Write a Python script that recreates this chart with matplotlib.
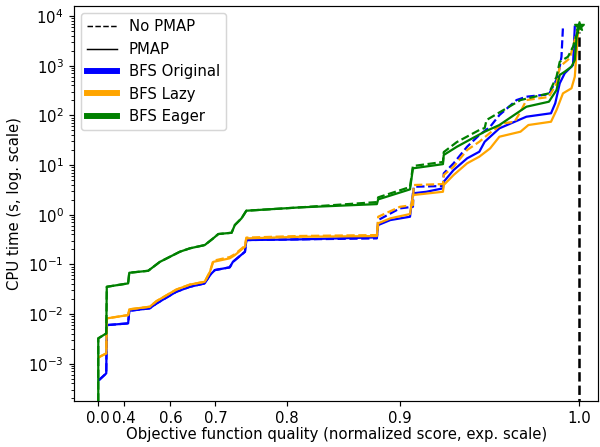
import matplotlib
matplotlib.use("Agg")
import matplotlib.pyplot as plt
from matplotlib.lines import Line2D
import numpy as np

# Calidad normalizada (0-1) frente a tiempo de CPU (s)
bfs_original_pmap_q = [0.03, 0.211, 0.22, 0.427, 0.434, 0.532, 0.557, 0.616, 0.649, 0.680,
                       0.690, 0.699, 0.724, 0.729, 0.747, 0.749, 0.814, 0.883, 0.884, 0.893,
                       0.907, 0.909, 0.918, 0.9285, 0.929, 0.935, 0.943, 0.950, 0.953, 0.961,
                       0.975, 0.987, 0.989, 0.9911, 0.9934, 0.9972, 0.998]
bfs_original_pmap_t = [4.67e-4, 6.37e-4, 5.97e-3, 6.47e-3, 1.16e-2, 1.30e-2, 1.63e-2, 2.80e-2, 3.53e-2, 4.13e-2,
                       6.08e-2, 7.66e-2, 8.69e-2, 0.112, 0.179, 0.308, 0.318, 0.349, 0.618, 0.778,
                       0.908, 2.69, 2.89, 3.39, 4.60, 7.91, 13.6, 18.5, 29.4, 54.7,
                       93.8, 110, 175, 441, 701, 1030, 6090]

bfs_original_nopmap_q = [0.03, 0.211, 0.22, 0.427, 0.434, 0.532, 0.557, 0.616, 0.649, 0.680,
                         0.690, 0.699, 0.724, 0.729, 0.747, 0.749, 0.814, 0.883, 0.884, 0.900,
                         0.909, 0.9095, 0.9285, 0.929, 0.935, 0.943, 0.950, 0.956, 0.961, 0.970,
                         0.975, 0.986, 0.9903, 0.9919, 0.9926]
bfs_original_nopmap_t = [4.67e-4, 6.37e-4, 5.97e-3, 6.47e-3, 1.16e-2, 1.30e-2, 1.63e-2, 2.80e-2, 3.53e-2, 4.13e-2,
                         6.08e-2, 7.66e-2, 8.69e-2, 0.112, 0.179, 0.308, 0.318, 0.333, 0.778, 1.34,
                         1.44, 3.65, 3.77, 6.79, 10.8, 23.3, 40.1, 58.9, 101, 203,
                         237, 265, 599, 1510, 6090]

bfs_lazy_pmap_q = [0.05, 0.211, 0.22, 0.427, 0.434, 0.532, 0.557, 0.616, 0.649, 0.680,
                   0.690, 0.696, 0.724, 0.732, 0.747, 0.749, 0.814, 0.883, 0.884, 0.893,
                   0.907, 0.909, 0.9285, 0.929, 0.935, 0.943, 0.950, 0.956, 0.961, 0.972,
                   0.976, 0.987, 0.9896, 0.9926, 0.9965, 0.998, 0.9994, 1.0]
bfs_lazy_pmap_t = [1.37e-3, 1.61e-3, 8.15e-3, 9.51e-3, 1.24e-2, 1.40e-2, 1.82e-2, 3.10e-2, 3.91e-2, 4.46e-2,
                   7.08e-2, 0.112, 0.132, 0.153, 0.226, 0.333, 0.359, 0.371, 0.668, 0.842,
                   1.03, 2.48, 2.89, 3.95, 6.28, 10.8, 14.7, 21.6, 37.1, 46.8,
                   63.8, 74.3, 128, 277, 350, 599, 4480, 6290]

bfs_lazy_nopmap_q = [0.05, 0.211, 0.22, 0.427, 0.434, 0.532, 0.557, 0.616, 0.649, 0.680,
                     0.690, 0.696, 0.724, 0.732, 0.747, 0.749, 0.814, 0.883, 0.884, 0.900,
                     0.909, 0.9095, 0.9285, 0.929, 0.935, 0.943, 0.950, 0.956, 0.963, 0.969,
                     0.972, 0.975, 0.986, 0.9896, 0.9911, 0.9957, 0.9988, 1.0]
bfs_lazy_nopmap_t = [1.37e-3, 1.61e-3, 8.15e-3, 9.51e-3, 1.24e-2, 1.40e-2, 1.82e-2, 3.10e-2, 3.91e-2, 4.46e-2,
                     7.08e-2, 0.118, 0.140, 0.160, 0.236, 0.345, 0.372, 0.388, 0.908, 1.44,
                     1.56, 3.95, 4.13, 6.28, 9.22, 20.0, 29.4, 44.6, 69.0, 74.3,
                     118, 203, 234, 441, 953, 1410, 4480, 6290]

bfs_eager_pmap_q = [0.0, 0.0, 0.211, 0.22, 0.427, 0.434, 0.526, 0.568, 0.625, 0.649,
                    0.680, 0.696, 0.705, 0.727, 0.732, 0.742, 0.749, 0.814, 0.883, 0.884,
                    0.907, 0.909, 0.9285, 0.929, 0.937, 0.946, 0.953, 0.961, 0.975, 0.986,
                    0.9896, 0.9911, 0.9934, 0.9965, 0.998, 0.9988, 1.0]
bfs_eager_pmap_t = [1e-4, 3.23e-3, 4.06e-3, 3.53e-2, 4.13e-2, 6.76e-2, 7.41e-2, 0.112, 0.179, 0.210,
                    0.244, 0.333, 0.407, 0.432, 0.618, 0.842, 1.20, 1.40, 1.63, 2.03,
                    3.23, 8.56, 10.4, 15.9, 23.3, 34.4, 46.8, 63.8, 149, 188,
                    324, 649, 755, 953, 1300, 3830, 6290]

bfs_eager_nopmap_q = [0.0, 0.0, 0.211, 0.22, 0.427, 0.434, 0.526, 0.568, 0.625, 0.649,
                      0.680, 0.696, 0.705, 0.727, 0.732, 0.742, 0.749, 0.814, 0.883, 0.884,
                      0.907, 0.909, 0.9285, 0.929, 0.937, 0.950, 0.953, 0.954, 0.972, 0.986,
                      0.9896, 0.9911, 0.9949, 0.9972, 1.0]
bfs_eager_nopmap_t = [1e-4, 3.23e-3, 4.06e-3, 3.53e-2, 4.13e-2, 6.76e-2, 7.41e-2, 0.112, 0.179, 0.210,
                      0.244, 0.333, 0.407, 0.432, 0.618, 0.842, 1.20, 1.40, 1.79, 2.23,
                      3.60, 9.53, 11.5, 18.2, 29.0, 50.6, 55.5, 80.4, 203, 277,
                      599, 1200, 1510, 2410, 6290]

# Tiempo del optimo
tiempo_optimo = 4800

ticks_calidad = [0.0, 0.4, 0.6, 0.7, 0.8, 0.9, 1.0]


def escala_exp(q):
    # Escala exponencial del eje x: 100**q
    return np.power(100.0, np.asarray(q))


DPI = 107
fig = plt.figure(figsize=(600 / DPI, 447 / DPI), dpi=DPI)
ax = fig.add_axes([0.1233, 0.1029, 0.8737, 0.8837])

series = [
    (bfs_original_nopmap_q, bfs_original_nopmap_t, 'blue', '--'),
    (bfs_original_pmap_q, bfs_original_pmap_t, 'blue', '-'),
    (bfs_lazy_nopmap_q, bfs_lazy_nopmap_t, 'orange', '--'),
    (bfs_lazy_pmap_q, bfs_lazy_pmap_t, 'orange', '-'),
    (bfs_eager_nopmap_q, bfs_eager_nopmap_t, 'green', '--'),
    (bfs_eager_pmap_q, bfs_eager_pmap_t, 'green', '-'),
]
for q, t, color, estilo in series:
    ax.plot(escala_exp(q), t, color=color, linestyle=estilo, linewidth=1.5)

# Mejor solucion encontrada
ax.plot(escala_exp([1.0]), [bfs_eager_pmap_t[-1]], marker='*', color='green', markersize=7)
ax.vlines(escala_exp(1.0), 1e-5, tiempo_optimo, colors='black', linestyles='--', linewidth=1.7)

ax.set_yscale('log')
ax.set_ylim(1.77e-4, 1.59e4)
ax.set_xlim(-4.0, 103.9)
ax.set_xticks(escala_exp(ticks_calidad))
ax.set_xticklabels([f"{v:.1f}" for v in ticks_calidad])

ax.set_xlabel("Objective function quality (normalized score, exp. scale)", labelpad=0.5)
ax.set_ylabel("CPU time (s, log. scale)")

handles = [
    Line2D([], [], color='black', linestyle='--', linewidth=1),
    Line2D([], [], color='black', linestyle='-', linewidth=1),
    Line2D([], [], color='blue', linewidth=4),
    Line2D([], [], color='orange', linewidth=4),
    Line2D([], [], color='green', linewidth=4),
]
ax.legend(handles, ["No PMAP", "PMAP", "BFS Original", "BFS Lazy", "BFS Eager"],
          loc='upper left')

plt.savefig("out.png", dpi=DPI)
